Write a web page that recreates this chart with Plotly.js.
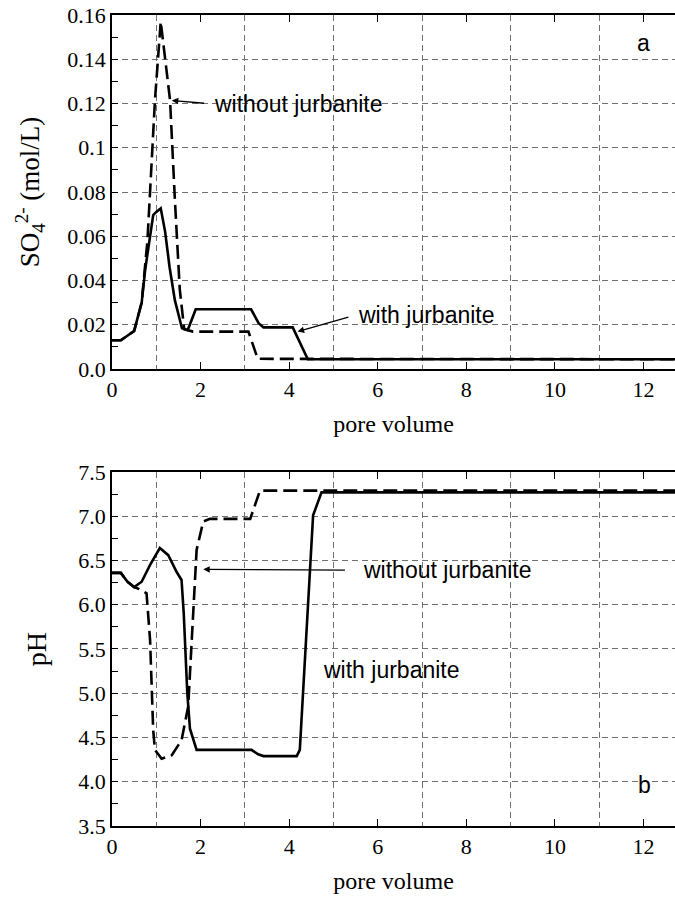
<!DOCTYPE html>
<html>
<head>
<meta charset="utf-8">
<script src="https://cdn.plot.ly/plotly-3.0.1.min.js"></script>
<style>html,body{margin:0;padding:0;background:#fff;}#chart{width:675px;height:898px;}</style>
</head>
<body>
<div id="chart"></div>
<script>
// ---- data (pore volume vs. concentration / pH) ----
const pvWithSO4 = [0, 0.2, 0.5, 0.6, 0.67, 0.75, 0.85, 0.93, 1.0, 1.1, 1.2, 1.3, 1.42, 1.58, 1.71, 1.89, 3.14, 3.31, 3.42, 4.08, 4.42, 12.71];
const so4With   = [0.013, 0.013, 0.0172, 0.025, 0.030, 0.045, 0.060, 0.0696, 0.071, 0.0726, 0.062, 0.046, 0.031, 0.0184, 0.0176, 0.027, 0.027, 0.0207, 0.0188, 0.0188, 0.0044, 0.0044];

const pvWithoutSO4 = [0, 0.2, 0.5, 0.67, 0.8, 0.97, 1.1, 1.31, 1.42, 1.53, 1.63, 1.83, 3.08, 3.29, 12.71];
const so4Without   = [0.013, 0.013, 0.0172, 0.030, 0.058, 0.1216, 0.157, 0.1216, 0.0764, 0.036, 0.018, 0.0169, 0.0169, 0.0046, 0.0044];

const pvWithPH = [0, 0.2, 0.35, 0.5, 0.67, 0.86, 1.08, 1.27, 1.46, 1.57, 1.62, 1.70, 1.76, 1.91, 3.15, 3.3, 3.42, 4.17, 4.24, 4.54, 4.73, 12.71];
const phWith   = [6.36, 6.36, 6.26, 6.20, 6.26, 6.45, 6.64, 6.56, 6.37, 6.28, 5.9, 5.0, 4.6, 4.36, 4.36, 4.31, 4.29, 4.29, 4.36, 7.01, 7.27, 7.27];

const pvWithoutPH = [0, 0.2, 0.35, 0.5, 0.6, 0.78, 0.86, 0.93, 0.97, 1.12, 1.35, 1.57, 1.72, 1.84, 1.91, 2.06, 2.21, 3.12, 3.34, 12.71];
const phWithout   = [6.36, 6.36, 6.26, 6.20, 6.18, 6.13, 5.6, 4.58, 4.36, 4.26, 4.30, 4.47, 4.85, 5.98, 6.62, 6.94, 6.97, 6.97, 7.29, 7.29];

const so4TickVals = [0, 0.02, 0.04, 0.06, 0.08, 0.1, 0.12, 0.14, 0.16];
const so4TickText = ['0.0', '0.02', '0.04', '0.06', '0.08', '0.1', '0.12', '0.14', '0.16'];
const phTickVals  = [3.5, 4.0, 4.5, 5.0, 5.5, 6.0, 6.5, 7.0, 7.5];
const phTickText  = ['3.5', '4.0', '4.5', '5.0', '5.5', '6.0', '6.5', '7.0', '7.5'];
const pvTickVals  = [0, 2, 4, 6, 8, 10, 12];

const serif = 'Liberation Serif, Times New Roman, serif';
const sans = 'Liberation Sans, Arial, sans-serif';
const gridCol = '#707070';
const gridDash = '6px,4px';

const solid = {color: '#000', width: 2.6};
const dashed = {color: '#000', width: 2.6, dash: '14px,6px'};

const traces = [
  {x: pvWithoutSO4, y: so4Without, mode: 'lines', line: dashed, xaxis: 'x', yaxis: 'y', name: 'without jurbanite'},
  {x: pvWithSO4, y: so4With, mode: 'lines', line: solid, xaxis: 'x', yaxis: 'y', name: 'with jurbanite'},
  {x: pvWithoutPH, y: phWithout, mode: 'lines', line: dashed, xaxis: 'x2', yaxis: 'y2', name: 'without jurbanite'},
  {x: pvWithPH, y: phWith, mode: 'lines', line: solid, xaxis: 'x2', yaxis: 'y2', name: 'with jurbanite'}
];

function xAxis(anchor) {
  return {
    anchor: anchor,
    range: [0, 12.71],
    tickvals: pvTickVals,
    ticks: 'inside', ticklen: 7, tickwidth: 1, tickcolor: '#000',
    showline: true, linecolor: '#000', linewidth: 1.5, mirror: 'ticks',
    showgrid: false, zeroline: false,
    minor: {tick0: 1, dtick: 2, showgrid: true, gridcolor: gridCol, griddash: gridDash, gridwidth: 1, ticks: ''},
    tickfont: {family: serif, size: 22, color: '#000'},
    title: {text: 'pore volume', font: {family: serif, size: 24, color: '#000'}, standoff: 14}
  };
}

const arrowStyle = {showarrow: true, arrowhead: 2, arrowsize: 1, arrowwidth: 1.3, arrowcolor: '#000'};
const labelFont = {family: sans, size: 23, color: '#000'};

const layout = {
  width: 675, height: 898,
  margin: {l: 112, r: 0, t: 15, b: 72},
  paper_bgcolor: '#fff', plot_bgcolor: '#fff',
  showlegend: false,
  xaxis: xAxis('y'),
  xaxis2: xAxis('y2'),
  yaxis: {
    domain: [0.5635, 1], anchor: 'x',
    range: [0, 0.16],
    tickvals: so4TickVals, ticktext: so4TickText,
    ticks: 'inside', ticklen: 6, tickwidth: 1, tickcolor: '#000',
    showline: true, linecolor: '#000', linewidth: 1.5, mirror: false,
    showgrid: true, gridcolor: gridCol, griddash: gridDash, gridwidth: 1, zeroline: false,
    minor: {dtick: 0.01, tick0: 0, ticks: 'inside', ticklen: 6, tickcolor: '#000', showgrid: false},
    tickfont: {family: serif, size: 22, color: '#000'},
    title: {text: 'SO<sub>4</sub><sup>2-</sup> (mol/L)', font: {family: serif, size: 27, color: '#000'}, standoff: 20}
  },
  yaxis2: {
    domain: [0, 0.4365], anchor: 'x2',
    range: [3.5, 7.5],
    tickvals: phTickVals, ticktext: phTickText,
    ticks: 'inside', ticklen: 6, tickwidth: 1, tickcolor: '#000',
    showline: true, linecolor: '#000', linewidth: 1.5, mirror: false,
    showgrid: true, gridcolor: gridCol, griddash: gridDash, gridwidth: 1, zeroline: false,
    minor: {dtick: 0.25, tick0: 3.5, ticks: 'inside', ticklen: 6, tickcolor: '#000', showgrid: false},
    tickfont: {family: serif, size: 22, color: '#000'},
    title: {text: 'pH', font: {family: serif, size: 28, color: '#000'}, standoff: 24}
  },
  annotations: [
    Object.assign({xref: 'x', yref: 'y', x: 1.35, y: 0.1214, ax: 2.26, ay: 0.1198, axref: 'x', ayref: 'y',
     xanchor: 'left', yanchor: 'middle', startstandoff: 8,
     text: 'without jurbanite', font: labelFont}, arrowStyle),
    Object.assign({xref: 'x', yref: 'y', x: 4.19, y: 0.0169, ax: 5.51, ay: 0.0245, axref: 'x', ayref: 'y',
     xanchor: 'left', yanchor: 'middle', startstandoff: 8,
     text: 'with jurbanite', font: labelFont}, arrowStyle),
    {xref: 'x', yref: 'y', x: 12.0, y: 0.1474, xanchor: 'center', yanchor: 'middle', showarrow: false,
     text: 'a', font: labelFont},

    Object.assign({xref: 'x2', yref: 'y2', x: 2.06, y: 6.40, ax: 5.62, ay: 6.39, axref: 'x2', ayref: 'y2',
     xanchor: 'left', yanchor: 'middle', startstandoff: 16,
     text: 'without jurbanite', font: labelFont}, arrowStyle),
    {xref: 'x2', yref: 'y2', x: 4.72, y: 5.26, xanchor: 'left', yanchor: 'middle', showarrow: false,
     text: 'with jurbanite', font: labelFont},
    {xref: 'x2', yref: 'y2', x: 12.03, y: 3.96, xanchor: 'center', yanchor: 'middle', showarrow: false,
     text: 'b', font: labelFont}
  ]
};

Plotly.newPlot('chart', traces, layout, {displayModeBar: false, responsive: false});
</script>
</body>
</html>
